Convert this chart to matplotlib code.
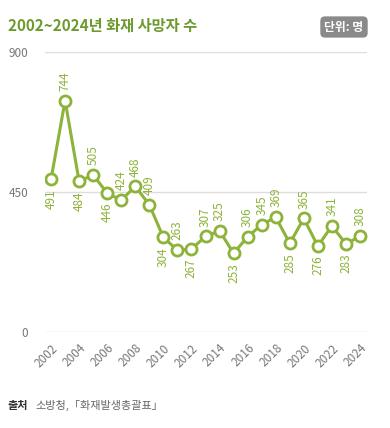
import matplotlib
matplotlib.use("Agg")
import matplotlib.pyplot as plt

plt.rcParams['font.family'] = ['Noto Sans CJK KR', 'DejaVu Sans']

years = list(range(2002, 2025))
deaths = [491, 744, 484, 505, 446, 424, 468, 409, 304, 263, 267, 307, 325,
          253, 306, 345, 369, 285, 365, 276, 341, 283, 308]
# label above (True) or below (False) the point
above = [False, True, False, True, False, True, True, True, False, True, False, True, True,
         False, True, True, True, False, True, False, True, False, True]
tick_years = list(range(2002, 2025, 2))

green = '#8db33a'
W, H = 390, 428
fig = plt.figure(figsize=(W / 100, H / 100), dpi=100)
ax = fig.add_axes([45 / W, (H - 332) / H, 322 / W, 280 / H])

for v in [0, 450, 900]:
    ax.axhline(v, color='#dddddd', lw=1, zorder=0)

ax.plot(years, deaths, color=green, lw=2.2, marker='o', ms=8,
        mfc='white', mec=green, mew=2, zorder=3)

for x, y, up in zip(years, deaths, above):
    if up:
        ax.annotate(str(y), (x, y), xytext=(0, 7), textcoords='offset points',
                    rotation=90, ha='center', va='bottom', fontsize=8.5, color=green)
    else:
        ax.annotate(str(y), (x, y), xytext=(0, -7), textcoords='offset points',
                    rotation=90, ha='center', va='top', fontsize=8.5, color=green)

ax.set_xlim(2001.57, 2024.5)
ax.set_ylim(0, 900)
ax.set_yticks([0, 450, 900])
ax.set_xticks(tick_years)
ax.set_xticklabels([str(t) for t in tick_years], rotation=45, ha='right',
                   rotation_mode='anchor')
ax.tick_params(axis='both', length=0, labelsize=8.5, labelcolor='#777777')
ax.tick_params(axis='y', pad=12)
ax.tick_params(axis='x', pad=7)
for s in ax.spines.values():
    s.set_visible(False)

fig.text(8 / W, 1 - 26 / H, '2002~2024년 화재 사망자 수', fontsize=11,
         fontweight='bold', color='#6b9a2e', va='center', ha='left')
fig.text(344 / W, 1 - 27 / H, '단위: 명', fontsize=8.5, fontweight='bold',
         color='white', va='center', ha='center',
         bbox=dict(boxstyle='round,pad=0.35,rounding_size=0.4', fc='#8a8a8a', ec='none'))
fig.text(8 / W, 1 - 405 / H, '출처', fontsize=8, fontweight='bold',
         color='#333333', va='center', ha='left')
fig.text(35 / W, 1 - 405 / H, '소방청,「화재발생총괄표」', fontsize=8,
         color='#666666', va='center', ha='left')

fig.savefig('out.png', dpi=100)
